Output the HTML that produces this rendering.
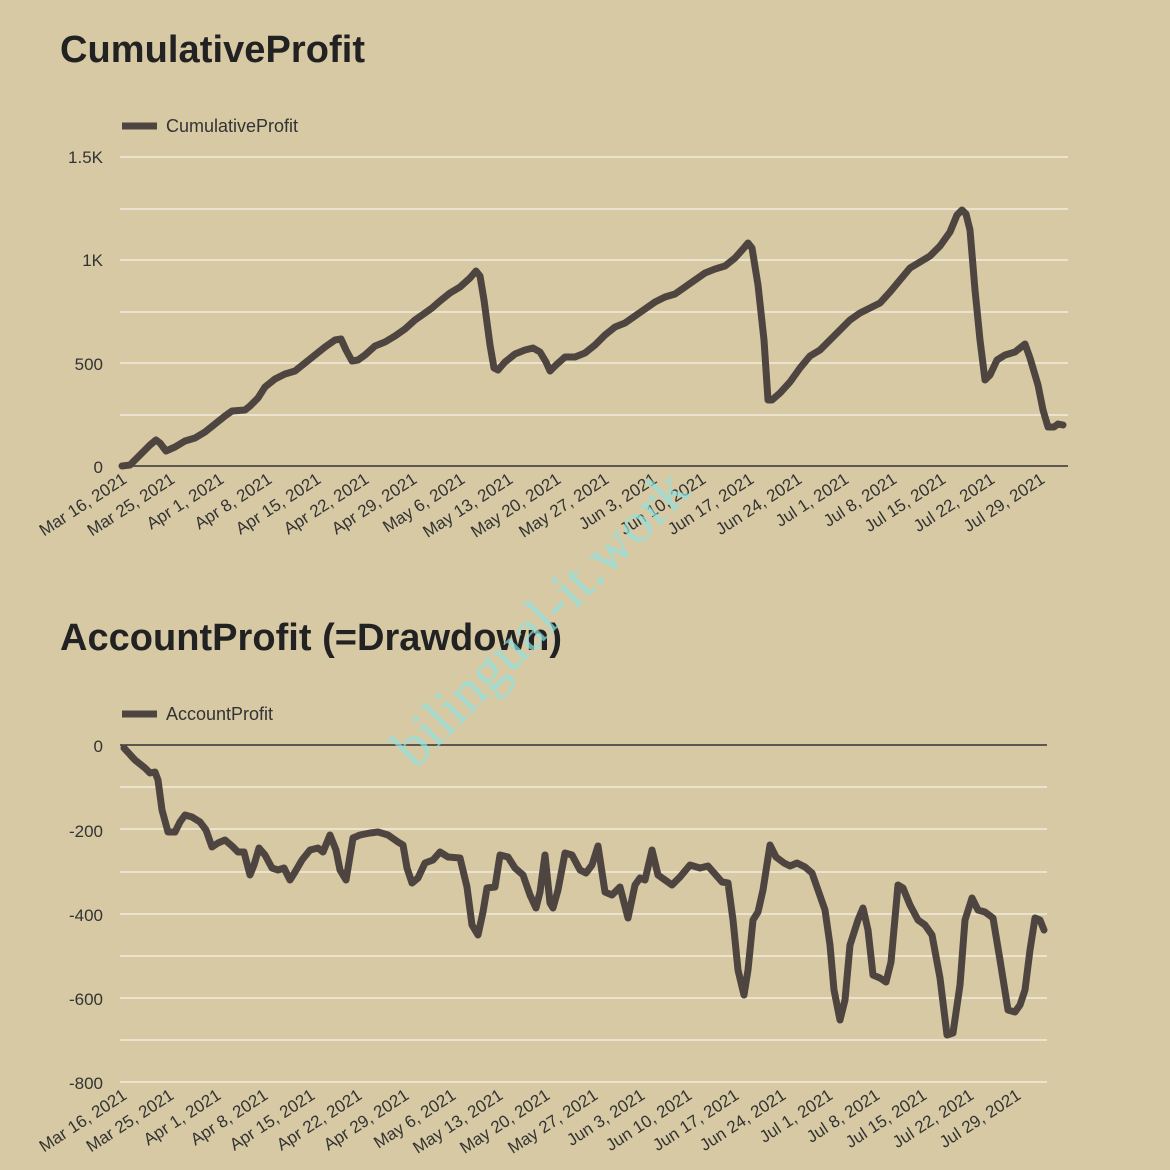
<!DOCTYPE html>
<html><head><meta charset="utf-8"><style>
html,body{margin:0;padding:0;background:#d6c9a4;overflow:hidden;}
svg{display:block;font-family:"Liberation Sans",sans-serif;}
</style></head><body>
<svg width="1170" height="1170" viewBox="0 0 1170 1170" xmlns="http://www.w3.org/2000/svg">
<rect width="1170" height="1170" fill="#d6c9a4"/>
<text x="60" y="62" font-size="38" font-weight="bold" fill="#222" textLength="305">CumulativeProfit</text>
<line x1="122" y1="126" x2="157" y2="126" stroke="#4f4540" stroke-width="7"/>
<text x="166" y="132" font-size="18" fill="#333">CumulativeProfit</text>
<g stroke="#ece3cf" stroke-width="2">
<line x1="120" y1="157" x2="1068" y2="157"/><line x1="120" y1="209" x2="1068" y2="209"/>
<line x1="120" y1="260" x2="1068" y2="260"/><line x1="120" y1="312" x2="1068" y2="312"/>
<line x1="120" y1="363" x2="1068" y2="363"/><line x1="120" y1="415" x2="1068" y2="415"/>
</g>
<line x1="120" y1="466" x2="1068" y2="466" stroke="#333" stroke-width="1.5"/>
<g font-size="17" fill="#333" text-anchor="end">
<text x="103" y="163">1.5K</text><text x="103" y="266">1K</text><text x="103" y="370">500</text><text x="103" y="473">0</text>
</g>
<g font-size="17" fill="#333" text-anchor="end">
<text transform="translate(128,482) rotate(-33)">Mar 16, 2021</text>
<text transform="translate(176,482) rotate(-33)">Mar 25, 2021</text>
<text transform="translate(225,482) rotate(-33)">Apr 1, 2021</text>
<text transform="translate(273,482) rotate(-33)">Apr 8, 2021</text>
<text transform="translate(322,482) rotate(-33)">Apr 15, 2021</text>
<text transform="translate(370,482) rotate(-33)">Apr 22, 2021</text>
<text transform="translate(418,482) rotate(-33)">Apr 29, 2021</text>
<text transform="translate(466,482) rotate(-33)">May 6, 2021</text>
<text transform="translate(514,482) rotate(-33)">May 13, 2021</text>
<text transform="translate(562,482) rotate(-33)">May 20, 2021</text>
<text transform="translate(610,482) rotate(-33)">May 27, 2021</text>
<text transform="translate(658,482) rotate(-33)">Jun 3, 2021</text>
<text transform="translate(707,482) rotate(-33)">Jun 10, 2021</text>
<text transform="translate(755,482) rotate(-33)">Jun 17, 2021</text>
<text transform="translate(803,482) rotate(-33)">Jun 24, 2021</text>
<text transform="translate(850,482) rotate(-33)">Jul 1, 2021</text>
<text transform="translate(898,482) rotate(-33)">Jul 8, 2021</text>
<text transform="translate(947,482) rotate(-33)">Jul 15, 2021</text>
<text transform="translate(996,482) rotate(-33)">Jul 22, 2021</text>
<text transform="translate(1046,482) rotate(-33)">Jul 29, 2021</text>
</g>
<polyline fill="none" stroke="#4f4540" stroke-width="7" stroke-linejoin="round" stroke-linecap="round" points="122,466 130,465 140,455 150,445 156,440 160,443 166,451 175,447 185,441 195,438 205,432 215,424 225,416 232,411 245,410 250,406 258,398 265,387 275,379 285,374 295,371 305,363 315,355 325,347 335,340 341,339 346,350 352,361 358,360 365,355 375,346 385,342 395,336 405,329 415,320 425,313 432,308 440,301 450,293 460,287 470,278 476,271 480,276 484,300 490,345 494,368 498,370 505,362 515,354 525,350 533,348 540,352 546,362 550,371 556,365 565,357 575,357 585,353 595,345 605,335 615,327 625,323 635,316 645,309 655,302 665,297 675,294 685,287 695,280 705,273 715,269 725,266 735,258 743,249 748,243 752,248 758,285 764,340 768,400 772,400 780,393 790,382 800,368 810,356 820,350 830,340 840,330 850,320 860,313 870,308 880,303 890,292 900,280 910,268 920,262 930,256 940,246 950,232 957,215 962,210 966,214 970,230 975,290 980,340 985,380 990,375 997,360 1005,355 1015,352 1020,348 1025,344 1030,358 1038,385 1043,410 1048,427 1054,427 1058,424 1063,425"/>

<text x="60" y="650" font-size="38" font-weight="bold" fill="#222" textLength="502">AccountProfit (=Drawdown)</text>
<line x1="122" y1="714" x2="157" y2="714" stroke="#4f4540" stroke-width="7"/>
<text x="166" y="720" font-size="18" fill="#333">AccountProfit</text>
<g stroke="#ece3cf" stroke-width="2">
<line x1="120" y1="787" x2="1047" y2="787"/><line x1="120" y1="829" x2="1047" y2="829"/>
<line x1="120" y1="872" x2="1047" y2="872"/><line x1="120" y1="914" x2="1047" y2="914"/>
<line x1="120" y1="956" x2="1047" y2="956"/><line x1="120" y1="998" x2="1047" y2="998"/>
<line x1="120" y1="1040" x2="1047" y2="1040"/><line x1="120" y1="1082" x2="1047" y2="1082"/>
</g>
<line x1="120" y1="745" x2="1047" y2="745" stroke="#333" stroke-width="1.5"/>
<g font-size="17" fill="#333" text-anchor="end">
<text x="103" y="752">0</text><text x="103" y="837">-200</text><text x="103" y="921">-400</text><text x="103" y="1005">-600</text><text x="103" y="1089">-800</text>
</g>
<g font-size="17" fill="#333" text-anchor="end">
<text transform="translate(128,1098) rotate(-33)">Mar 16, 2021</text>
<text transform="translate(175,1098) rotate(-33)">Mar 25, 2021</text>
<text transform="translate(222,1098) rotate(-33)">Apr 1, 2021</text>
<text transform="translate(269,1098) rotate(-33)">Apr 8, 2021</text>
<text transform="translate(316,1098) rotate(-33)">Apr 15, 2021</text>
<text transform="translate(363,1098) rotate(-33)">Apr 22, 2021</text>
<text transform="translate(410,1098) rotate(-33)">Apr 29, 2021</text>
<text transform="translate(457,1098) rotate(-33)">May 6, 2021</text>
<text transform="translate(504,1098) rotate(-33)">May 13, 2021</text>
<text transform="translate(551,1098) rotate(-33)">May 20, 2021</text>
<text transform="translate(599,1098) rotate(-33)">May 27, 2021</text>
<text transform="translate(646,1098) rotate(-33)">Jun 3, 2021</text>
<text transform="translate(693,1098) rotate(-33)">Jun 10, 2021</text>
<text transform="translate(740,1098) rotate(-33)">Jun 17, 2021</text>
<text transform="translate(787,1098) rotate(-33)">Jun 24, 2021</text>
<text transform="translate(834,1098) rotate(-33)">Jul 1, 2021</text>
<text transform="translate(881,1098) rotate(-33)">Jul 8, 2021</text>
<text transform="translate(928,1098) rotate(-33)">Jul 15, 2021</text>
<text transform="translate(975,1098) rotate(-33)">Jul 22, 2021</text>
<text transform="translate(1022,1098) rotate(-33)">Jul 29, 2021</text>
</g>
<polyline fill="none" stroke="#4f4540" stroke-width="7" stroke-linejoin="round" stroke-linecap="round" points="124,748 135,760 145,768 150,773 155,772 158,780 162,810 168,832 175,832 180,822 185,815 192,817 200,822 206,830 212,847 218,843 225,840 232,846 238,852 244,852 250,875 254,865 259,848 265,855 272,868 278,870 284,868 290,880 295,872 302,860 310,850 318,848 323,852 330,835 336,850 340,870 346,880 353,838 360,835 370,833 378,832 388,835 398,842 403,845 407,868 412,883 418,878 425,863 433,860 440,852 448,857 460,858 467,887 472,925 478,935 483,912 487,888 495,887 500,855 508,857 515,868 523,875 530,895 536,908 540,892 545,855 550,903 553,908 558,890 565,853 572,855 580,870 586,873 592,865 598,846 605,892 612,895 620,887 628,918 635,885 640,878 645,880 652,850 658,875 665,880 672,885 680,877 690,865 700,868 708,866 715,874 722,882 728,883 733,920 738,970 744,995 748,970 753,920 758,912 763,890 770,845 776,857 784,863 790,866 797,863 805,867 812,873 818,890 825,910 830,945 834,990 840,1020 845,1000 850,945 858,920 863,908 868,930 873,975 880,978 886,982 891,962 898,885 903,888 910,905 918,920 925,925 932,935 940,978 947,1035 953,1033 960,985 965,920 972,898 978,910 985,912 993,918 1000,960 1008,1010 1015,1012 1020,1005 1025,990 1030,950 1035,918 1040,920 1044,930"/>

<text transform="translate(415,770) rotate(-45)" font-family="Liberation Serif, serif" font-size="58" fill="#8fe3e0" fill-opacity="0.7">bilingual-it.work</text>
</svg>
</body></html>
